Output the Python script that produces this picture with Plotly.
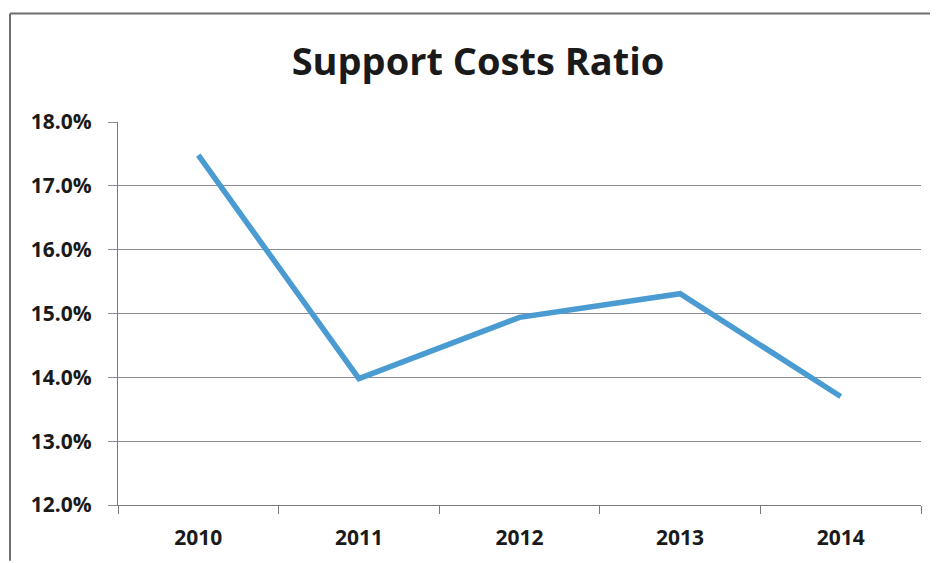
import plotly.graph_objects as go

years = ["2010", "2011", "2012", "2013", "2014"]
ratio = [0.1748, 0.1398, 0.1494, 0.1531, 0.1370]
y_ticks = [0.12, 0.13, 0.14, 0.15, 0.16, 0.17, 0.18]

# page body has an 8px margin, so the figure is 8px smaller than the window
W, H = 930, 555
L, R, T, B = 110, 17, 114, 56

fig = go.Figure()
fig.add_trace(go.Scatter(
    x=years, y=ratio, mode="lines",
    line=dict(color="#4a9bd2", width=5.5),
    hoverinfo="x+y",
))

pw = W - L - R
ph = H - T - B
FONT = "Open Sans, Lato, sans-serif"
fig.update_layout(
    width=W, height=H,
    margin=dict(l=L, r=R, t=T, b=B),
    paper_bgcolor="white", plot_bgcolor="white",
    showlegend=False,
    title=dict(text="<b>Support Costs Ratio</b>", x=(478 - 8) / W, xanchor="center",
               y=1 - 54 / H, yanchor="middle",
               font=dict(family=FONT, size=38, color="#1a1a1a")),
    font=dict(family=FONT, color="#1a1a1a"),
    xaxis=dict(
        type="category", range=[-0.5, 4.5],
        showgrid=False, showline=True, linecolor="#7a7a7a", linewidth=1,
        ticks="outside", tickson="boundaries", ticklen=8, tickcolor="#7a7a7a",
        tickfont=dict(size=21, family=FONT, weight="bold"),
        ticklabelstandoff=14,
    ),
    yaxis=dict(
        range=[0.12, 0.18], tickvals=y_ticks, tickformat=".1%",
        showgrid=True, gridcolor="#8a8a9a", gridwidth=1,
        showline=True, linecolor="#7a7a7a", linewidth=1,
        ticks="outside", ticklen=9, tickcolor="#8a8a9a",
        zeroline=False,
        tickfont=dict(size=21, family=FONT, weight="bold"),
        ticklabelstandoff=12,
    ),
    shapes=[
        dict(type="line", xref="paper", yref="paper",
             x0=(2 - L) / pw, x1=(W - L) / pw, y0=(H - 5 - B) / ph, y1=(H - 5 - B) / ph,
             line=dict(color="#6e6e6e", width=2)),
        dict(type="line", xref="paper", yref="paper",
             x0=(2 - L) / pw, x1=(2 - L) / pw, y0=(H - 5 - B) / ph, y1=-B / ph,
             line=dict(color="#6e6e6e", width=2)),
    ],
)

fig.write_html("out.html")
